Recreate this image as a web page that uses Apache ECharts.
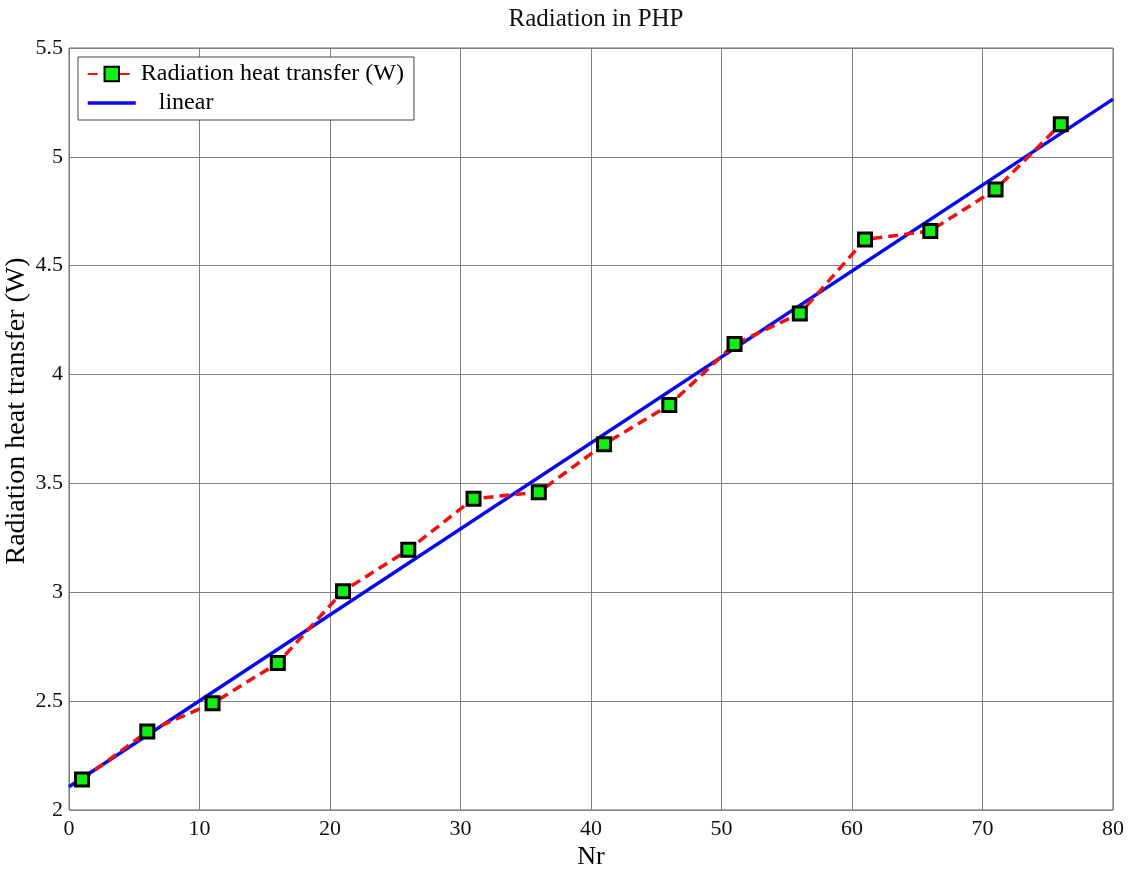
<!DOCTYPE html>
<html>
<head>
<meta charset="utf-8">
<script src="https://cdn.jsdelivr.net/npm/echarts@6/dist/echarts.min.js"></script>
<style>
  html, body { margin: 0; padding: 0; background: #fff; }
  #chart { width: 1129px; height: 869px; }
</style>
</head>
<body>
<div id="chart"></div>
<script>
// measured points
const nr = [1, 6, 11, 16, 21, 26, 31, 36, 41, 46, 51, 56, 61, 66, 71, 76]
const heat = [2.14, 2.36, 2.49, 2.675, 3.005, 3.195, 3.43, 3.46, 3.68, 3.86, 4.14, 4.28, 4.62, 4.66, 4.85, 5.15]
// linear fit endpoints
const linX = [0, 80]
const linY = [2.107, 5.265]

const font = '"Liberation Serif", "DejaVu Serif", serif'

const chart = echarts.init(document.getElementById('chart'), null, { renderer: 'canvas' })

const option = {
  animation: false,
  backgroundColor: '#fff',
  title: {
    text: 'Radiation in PHP',
    left: 591,
    top: 2,
    textAlign: 'center',
    textStyle: { fontFamily: font, fontWeight: 'normal', fontSize: 25, color: '#111' }
  },
  legend: {
    left: 78,
    top: 57,
    orient: 'vertical',
    itemGap: 5,
    itemWidth: 48,
    itemHeight: 18,
    padding: [5, 10, 5, 8],
    borderColor: '#444',
    borderWidth: 1,
    borderRadius: 0,
    backgroundColor: '#fff',
    textStyle: { fontFamily: font, fontSize: 24, color: '#000' },
    data: [
      { name: 'Radiation heat transfer (W)' },
      {
        name: '   linear',
        itemStyle: { color: 'rgba(0,0,0,0)', borderWidth: 0 },
        lineStyle: { width: 3.5 }
      }
    ]
  },
  grid: {
    left: 69,
    right: 16,
    top: 48,
    bottom: 59,
    outerBoundsMode: 'none',
    show: true,
    borderColor: '#666',
    borderWidth: 1
  },
  xAxis: {
    type: 'value',
    min: 0,
    max: 80,
    interval: 10,
    name: 'Nr',
    nameLocation: 'middle',
    nameGap: 34,
    nameMoveOverlap: false,
    nameTextStyle: { fontFamily: font, fontSize: 26, color: '#000' },
    axisLine: { show: false },
    axisTick: { show: false },
    axisLabel: { fontFamily: font, fontSize: 22, color: '#111', margin: 8 },
    splitLine: { show: true, lineStyle: { color: '#808080', width: 1 } }
  },
  yAxis: {
    type: 'value',
    min: 2,
    max: 5.5,
    interval: 0.5,
    name: 'Radiation heat transfer (W)',
    nameLocation: 'middle',
    nameGap: 38,
    nameMoveOverlap: false,
    nameTextStyle: { fontFamily: font, fontSize: 28, color: '#000', padding: [0, 0, 0, 36] },
    axisLine: { show: false },
    axisTick: { show: false },
    axisLabel: { fontFamily: font, fontSize: 22, color: '#111', margin: 6 },
    splitLine: { show: true, lineStyle: { color: '#808080', width: 1 } }
  },
  series: [
    {
      name: 'Radiation heat transfer (W)',
      type: 'line',
      data: nr.map((x, i) => [x, heat[i]]),
      symbol: 'rect',
      symbolSize: 13,
      z: 3,
      lineStyle: { color: '#f01010', width: 3.5, type: [10, 6] },
      itemStyle: { color: '#10f010', borderColor: '#000', borderWidth: 3 }
    },
    {
      name: '   linear',
      type: 'line',
      data: linX.map((x, i) => [x, linY[i]]),
      symbol: 'none',
      z: 2,
      lineStyle: { color: '#0808f0', width: 3.5 },
      itemStyle: { color: '#0808f0' }
    }
  ]
}

option && chart.setOption(option)
</script>
</body>
</html>
